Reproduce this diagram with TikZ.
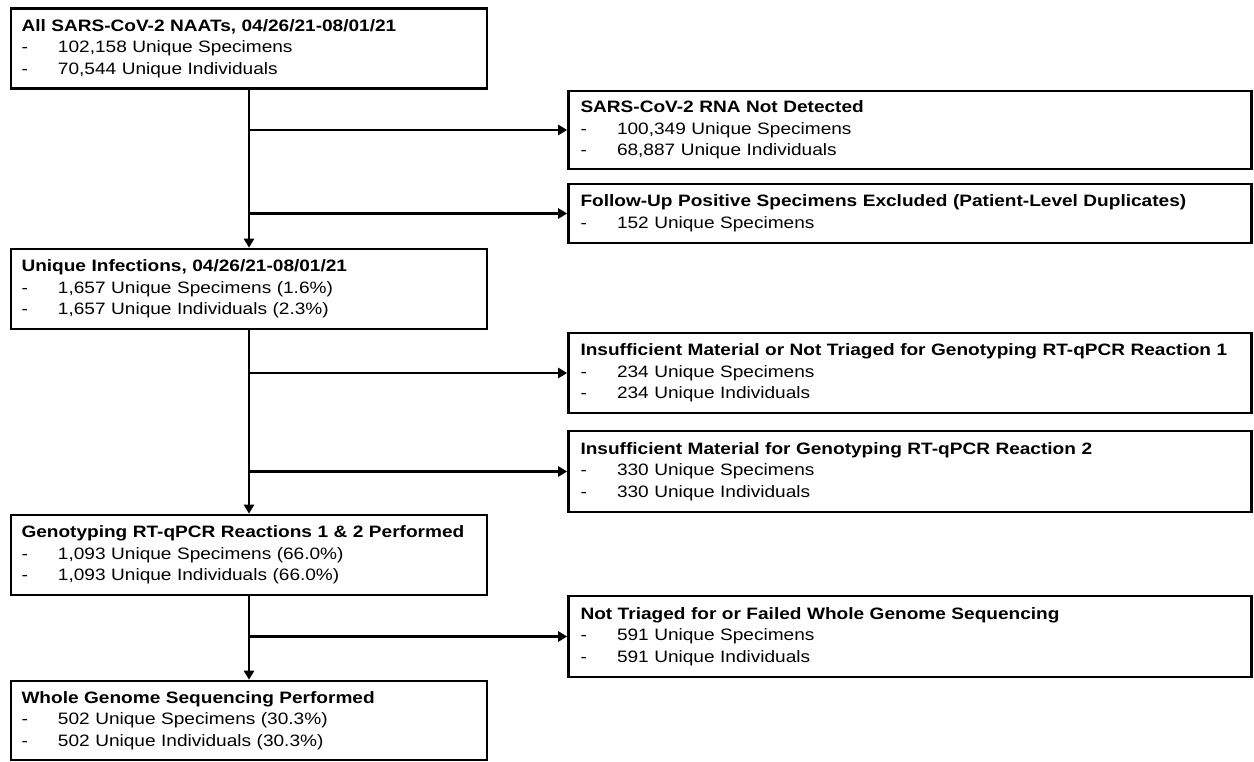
\documentclass[tikz,border=0pt]{standalone}
\usepackage{fontspec}
\setmainfont{Liberation Sans}[FakeStretch=1.155]
\usetikzlibrary{arrows.meta}
\newcommand{\dashitem}[1]{\makebox[36.5pt][l]{-}#1}
\begin{document}
\begin{tikzpicture}[x=1pt,y=-1pt,
  box/.style={draw=black, line width=2.6pt, fill=white, inner ysep=0pt,
    align=left, font=\fontsize{16.5}{21.7}\selectfont, anchor=center},
  lbox/.style={box, inner xsep=10.5pt, minimum width=476pt, text width=455pt},
  rbox/.style={box, inner xsep=12pt, minimum width=683pt, text width=659pt},
  conn/.style={line width=2.6pt, -{Triangle[length=9pt,width=10pt]}}]
\fill[white] (0,0) rectangle (1254,762);
\useasboundingbox (0,0) rectangle (1254,762);

\node[lbox, minimum height=80pt] (b1) at (249,48.5) {{\bfseries All SARS-CoV-2 NAATs, 04/26/21-08/01/21}\\\dashitem{102,158 Unique Specimens}\\\dashitem{70,544 Unique Individuals}};
\node[lbox, minimum height=80pt] (b2) at (249,289) {{\bfseries Unique Infections, 04/26/21-08/01/21}\\\dashitem{1,657 Unique Specimens (1.6\%)}\\\dashitem{1,657 Unique Individuals (2.3\%)}};
\node[lbox, minimum height=80pt] (b3) at (249,555) {{\bfseries Genotyping RT-qPCR Reactions 1 \& 2 Performed}\\\dashitem{1,093 Unique Specimens (66.0\%)}\\\dashitem{1,093 Unique Individuals (66.0\%)}};
\node[lbox, minimum height=79pt] (b4) at (249,720.5) {{\bfseries Whole Genome Sequencing Performed}\\\dashitem{502 Unique Specimens (30.3\%)}\\\dashitem{502 Unique Individuals (30.3\%)}};

\node[rbox, minimum height=78pt] (r1) at (910,130) {{\bfseries SARS-CoV-2 RNA Not Detected}\\\dashitem{100,349 Unique Specimens}\\\dashitem{68,887 Unique Individuals}};
\node[rbox, minimum height=59pt] (r2) at (910,213.5) {{\bfseries Follow-Up Positive Specimens Excluded (Patient-Level Duplicates)}\\\dashitem{152 Unique Specimens}};
\node[rbox, minimum height=80pt] (r3) at (910,373) {{\bfseries Insufficient Material or Not Triaged for Genotyping RT-qPCR Reaction 1}\\\dashitem{234 Unique Specimens}\\\dashitem{234 Unique Individuals}};
\node[rbox, minimum height=81pt] (r4) at (910,471.5) {{\bfseries Insufficient Material for Genotyping RT-qPCR Reaction 2}\\\dashitem{330 Unique Specimens}\\\dashitem{330 Unique Individuals}};
\node[rbox, minimum height=81pt] (r5) at (910,636.5) {{\bfseries Not Triaged for or Failed Whole Genome Sequencing}\\\dashitem{591 Unique Specimens}\\\dashitem{591 Unique Individuals}};

\draw[conn] (b1.south) -- (b2.north);
\draw[conn] (b1.south |- r1.west) -- (r1.west);
\draw[conn] (b1.south |- r2.west) -- (r2.west);
\draw[conn] (b2.south) -- (b3.north);
\draw[conn] (b2.south |- r3.west) -- (r3.west);
\draw[conn] (b2.south |- r4.west) -- (r4.west);
\draw[conn] (b3.south) -- (b4.north);
\draw[conn] (b3.south |- r5.west) -- (r5.west);
\end{tikzpicture}
\end{document}
